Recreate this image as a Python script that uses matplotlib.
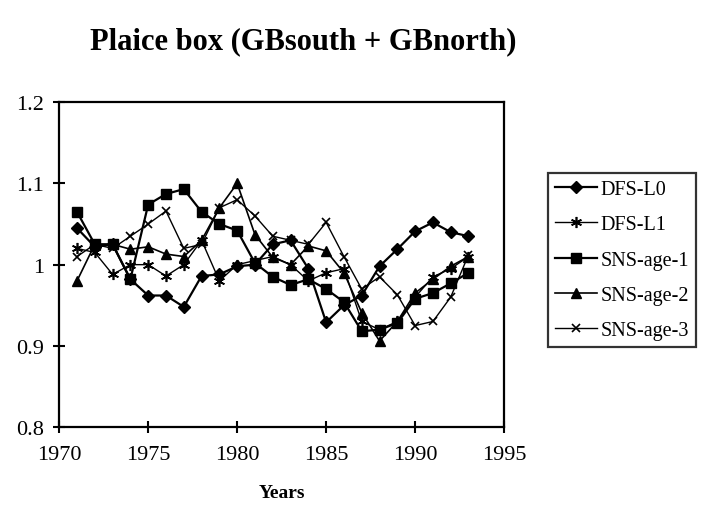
import numpy as np
import matplotlib
matplotlib.use("Agg")
import matplotlib.pyplot as plt

plt.rcParams["font.family"] = ["Liberation Serif", "DejaVu Serif"]

years = np.arange(1971, 1994)
dfs_l0 = [1.045, 1.022, 1.025, 0.982, 0.962, 0.962, 0.948, 0.986, 0.988, 0.998,
          1.000, 1.025, 1.030, 0.995, 0.929, 0.950, 0.962, 0.998, 1.019, 1.041,
          1.052, 1.040, 1.035]
dfs_l1 = [1.020, 1.015, 0.988, 1.000, 1.000, 0.986, 1.000, 1.030, 0.980, 1.000,
          1.005, 1.010, 1.000, 0.980, 0.990, 0.995, 0.930, 0.920, 0.930, 0.960,
          0.985, 0.995, 1.010]
sns_age1 = [1.065, 1.025, 1.025, 0.982, 1.074, 1.087, 1.093, 1.065, 1.050, 1.042,
            1.002, 0.985, 0.975, 0.982, 0.970, 0.954, 0.918, 0.920, 0.928, 0.958,
            0.965, 0.977, 0.990]
sns_age2 = [0.980, 1.025, 1.025, 1.019, 1.022, 1.013, 1.010, 1.030, 1.070, 1.100,
            1.037, 1.009, 1.000, 1.023, 1.017, 0.990, 0.941, 0.906, 0.930, 0.965,
            0.982, 0.998, 1.010]
sns_age3 = [1.010, 1.025, 1.020, 1.035, 1.050, 1.066, 1.020, 1.025, 1.070, 1.080,
            1.060, 1.035, 1.030, 1.025, 1.052, 1.010, 0.970, 0.985, 0.963, 0.925,
            0.930, 0.960, 1.012]

fig = plt.figure(figsize=(7.05, 5.06), dpi=100)
ax = fig.add_axes([0.084, 0.154, 0.631, 0.642])

ax.plot(years, dfs_l0, color="black", lw=1.6, marker="D", ms=6.5, label="DFS-L0")
ax.plot(years, dfs_l1, color="black", lw=1.0, marker=(6, 2, 0), ms=8,
        mew=1.2, label="DFS-L1")
ax.plot(years, sns_age1, color="black", lw=1.6, marker="s", ms=7, label="SNS-age-1")
ax.plot(years, sns_age2, color="black", lw=1.2, marker="^", ms=7.5, label="SNS-age-2")
ax.plot(years, sns_age3, color="black", lw=1.0, marker="x", ms=6, mew=1.2,
        label="SNS-age-3")

ax.set_xlim(1970, 1995)
ax.set_ylim(0.8, 1.2)
ax.set_xticks(np.arange(1970, 1996, 5))
ax.set_yticks([0.8, 0.9, 1.0, 1.1, 1.2])
ax.set_yticklabels(["0.8", "0.9", "1", "1.1", "1.2"])
ax.tick_params(direction="inout", length=8, width=1.5, labelsize=16)
ax.tick_params(axis="x", pad=9)
ax.tick_params(axis="y", pad=7)
for s in ax.spines.values():
    s.set_linewidth(1.6)

fig.text(0.43, 0.917, "Plaice box (GBsouth + GBnorth)", ha="center", va="center",
         fontsize=22, fontweight="bold")
fig.text(0.40, 0.024, "Years", ha="center", va="center", fontsize=14,
         fontweight="bold")

leg = fig.legend(loc="upper left", bbox_to_anchor=(0.777, 0.656), fontsize=14.5,
                 frameon=True, fancybox=False, handlelength=2.1,
                 handletextpad=0.15, borderpad=0.35, labelspacing=0.8,
                 borderaxespad=0)
leg.get_frame().set_edgecolor("black")
leg.get_frame().set_linewidth(1.6)

fig.savefig("out.png", dpi=100)
